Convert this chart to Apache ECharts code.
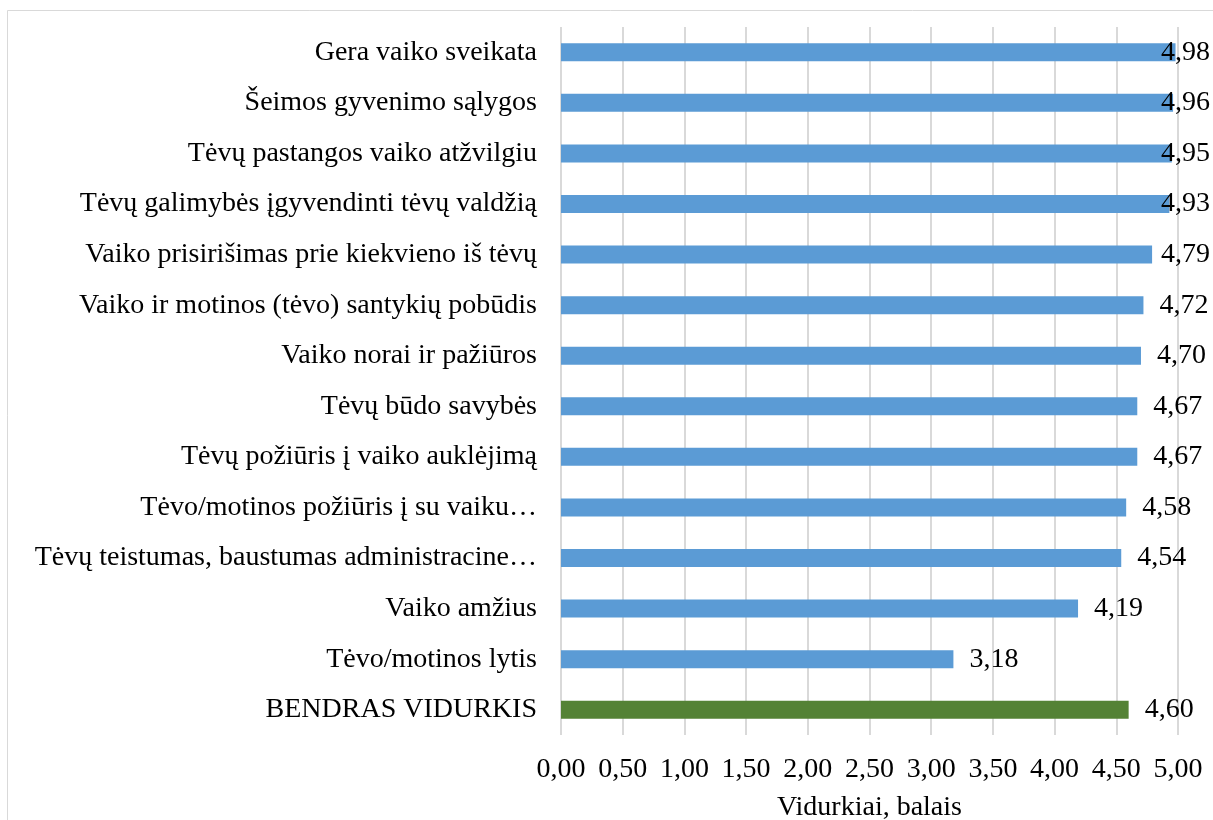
<!DOCTYPE html>
<html>
<head>
<meta charset="utf-8">
<script src="https://cdn.jsdelivr.net/npm/echarts@6/dist/echarts.min.js"></script>
<style>
html,body{margin:0;padding:0;background:#fff;}
#chart{width:1213px;height:820px;}
</style>
</head>
<body>
<div id="chart"></div>
<script>
const categories = [
  'Gera vaiko sveikata',
  'Šeimos gyvenimo sąlygos',
  'Tėvų pastangos vaiko atžvilgiu',
  'Tėvų galimybės įgyvendinti tėvų valdžią',
  'Vaiko prisirišimas prie kiekvieno iš tėvų',
  'Vaiko ir motinos (tėvo) santykių pobūdis',
  'Vaiko norai ir pažiūros',
  'Tėvų būdo savybės',
  'Tėvų požiūris į vaiko auklėjimą',
  'Tėvo/motinos požiūris į su vaiku…',
  'Tėvų teistumas, baustumas administracine…',
  'Vaiko amžius',
  'Tėvo/motinos lytis',
  'BENDRAS VIDURKIS'
];
const values = [4.98, 4.96, 4.95, 4.93, 4.79, 4.72, 4.70, 4.67, 4.67, 4.58, 4.54, 4.19, 3.18, 4.60];
const totalLabel = 'BENDRAS VIDURKIS';
const axisTitle = 'Vidurkiai, balais';
const xMin = 0, xMax = 5, xStep = 0.5;

const BLUE = '#5B9BD5', GREEN = '#548235';
const FONT = '"Liberation Serif", "Times New Roman", serif';
const FS = 28;
const fmt = v => v.toFixed(2).replace('.', ',');

const chart = echarts.init(document.getElementById('chart'), null, {renderer: 'canvas'});
chart.setOption({
  animation: false,
  backgroundColor: '#fff',
  textStyle: {fontFamily: FONT},
  graphic: [{
    type: 'rect',
    shape: {x: 7.5, y: 10.5, width: 1300, height: 900},
    style: {fill: 'none', stroke: '#d9d9d9', lineWidth: 1},
    silent: true, z: -10
  }],
  grid: {left: 561, right: 35, top: 27, bottom: 85, containLabel: false, outerBoundsMode: 'none'},
  xAxis: {
    type: 'value',
    min: xMin, max: xMax, interval: xStep,
    name: axisTitle,
    nameLocation: 'middle',
    nameGap: 59,
    nameTextStyle: {fontFamily: FONT, fontSize: FS, color: '#000'},
    axisLine: {show: false},
    axisTick: {show: false},
    axisLabel: {fontFamily: FONT, fontSize: FS, color: '#000', margin: 21, formatter: v => fmt(v)},
    splitLine: {show: true, lineStyle: {color: '#d9d9d9', width: 2}}
  },
  yAxis: {
    type: 'category',
    inverse: true,
    data: categories,
    axisLine: {show: false},
    axisTick: {show: false},
    axisLabel: {fontFamily: FONT, fontSize: FS, color: '#000', margin: 24, interval: 0, padding: [6, 0, 0, 0]}
  },
  series: [{
    type: 'bar',
    barWidth: 18,
    data: values.map((v, i) => ({
      value: v,
      itemStyle: {color: categories[i] === totalLabel ? GREEN : BLUE}
    })),
    label: {
      show: true,
      position: 'right',
      distance: 16,
      padding: [6, 0, 0, 0],
      fontFamily: FONT,
      fontSize: FS,
      color: '#000',
      formatter: p => fmt(p.value)
    },
    labelLayout: function (p) {
      const right = p.labelRect.x + p.labelRect.width;
      const limit = 1210;
      if (right > limit) return {dx: limit - right};
      return {};
    }
  }]
});
</script>
</body>
</html>
